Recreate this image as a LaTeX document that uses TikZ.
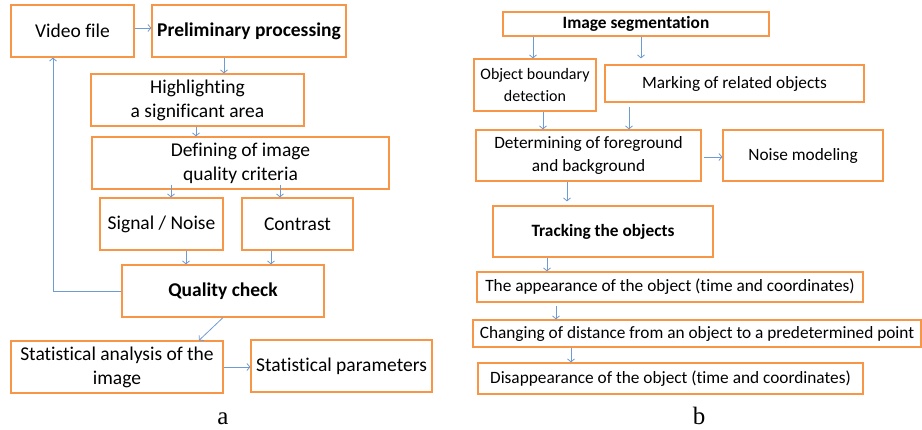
\documentclass[tikz,border=0pt]{standalone}
\usepackage{fontspec}
\setmainfont{Carlito}[Ligatures=NoCommon]
\newfontfamily\capFont{Liberation Serif}
\usetikzlibrary{positioning, arrows.meta}
\definecolor{boxOrange}{RGB}{247, 150, 70}
\definecolor{arrowBlue}{RGB}{110, 155, 210}
\tikzset{myBox/.style={draw=boxOrange, line width=1.2pt, inner sep=0pt, align=center, font=\fontsize{19.5}{24}\selectfont}}
\tikzset{mySmallBox/.style={myBox, font=\fontsize{17.3}{23}\selectfont}}
\tikzset{myArrow/.style={draw=arrowBlue, line width=0.8pt, -{Straight Barb[length=3pt,width=7pt]}}}
\tikzset{myCaption/.style={font=\capFont\fontsize{25}{28}\selectfont, inner sep=0pt, anchor=base}}

\begin{document}
\begin{tikzpicture}[x=1pt,y=-1pt]
	\useasboundingbox (0,0) rectangle (922,429);
	% part a
	\node[myBox, minimum width=123, minimum height=52] (video) at (72.5,31) {Video file};
	\node[myBox, minimum width=194, minimum height=52] (prelim) at (249,31) {\textbf{Preliminary processing}};
	\node[myBox, minimum width=213, minimum height=52] (highlight) at (197.5,100) {Highlighting\\a significant area};
	\node[myBox, minimum width=297, minimum height=52] (defining) at (240.5,163) {Defining of image\\quality criteria};
	\node[myBox, minimum width=123, minimum height=52] (signal) at (161.5,224) {Signal / Noise};
	\node[myBox, minimum width=111, minimum height=52] (contrast) at (297.5,224) {Contrast};
	\node[myBox, minimum width=202, minimum height=52] (quality) at (223,291) {\textbf{Quality check}};
	\node[myBox, minimum width=212, minimum height=52] (statAn) at (117,367) {Statistical analysis of the\\image};
	\node[myBox, minimum width=181, minimum height=52] (statPar) at (341.5,366) {Statistical parameters};
	\node[myCaption] (capA) at (223,424) {a};

	\draw[myArrow] ([yshift=3pt]video.east) -- ([yshift=3pt]prelim.west);
	\draw[myArrow] ([xshift=-25pt]prelim.south) -- ([xshift=26.5pt]highlight.north);
	\draw[myArrow] ([xshift=-1.5pt]highlight.south) -- ([xshift=-44.5pt]defining.north);
	\draw[myArrow] ([xshift=-69.5pt,yshift=5pt]defining.south) -- ([xshift=9.5pt]signal.north);
	\draw[myArrow] ([xshift=39.5pt,yshift=5pt]defining.south) -- ([xshift=-17.5pt]contrast.north);
	\draw[myArrow] ([xshift=24.5pt]signal.south) -- ([xshift=-37pt]quality.north);
	\draw[myArrow] ([xshift=-26.5pt]contrast.south) -- ([xshift=48pt]quality.north);
	\draw[myArrow] (quality.west) -| ([xshift=-19.5pt]video.south);
	\draw[myArrow] (quality.south) -- ([xshift=82pt]statAn.north);
	\draw[myArrow] (statAn.east) -- ([yshift=-1pt]statPar.west);

	% part b
	\node[mySmallBox, minimum width=266, minimum height=24] (segment) at (636,24) {\textbf{Image segmentation}};
	\node[mySmallBox, minimum width=122, minimum height=52, font=\fontsize{16}{22}\selectfont] (boundary) at (535,85) {Object boundary\\detection};
	\node[mySmallBox, minimum width=259, minimum height=37] (marking) at (734.5,83.5) {Marking of related objects};
	\node[mySmallBox, minimum width=225, minimum height=51] (foreground) at (588.5,155.5) {Determining of foreground\\and background};
	\node[mySmallBox, minimum width=160, minimum height=51] (noise) at (803,155.5) {Noise modeling};
	\node[mySmallBox, minimum width=220, minimum height=51] (tracking) at (603,231.5) {\textbf{Tracking the objects}};
	\node[mySmallBox, minimum width=386, minimum height=30] (appear) at (670,287) {The appearance of the object (time and coordinates)};
	\node[mySmallBox, minimum width=448, minimum height=27] (distance) at (697,333.5) {Changing of distance from an object to a predetermined point};
	\node[mySmallBox, minimum width=385, minimum height=31] (disappear) at (670.5,378.5) {Disappearance of the object (time and coordinates)};
	\node[myCaption] (capB) at (699,424) {b};

	\draw[myArrow] ([xshift=-103pt]segment.south) -- ([xshift=-2pt]boundary.north);
	\draw[myArrow] ([xshift=5pt]segment.south) -- ([xshift=-93.5pt,yshift=6pt]marking.north);
	\draw[myArrow] ([xshift=8pt]boundary.south) -- ([xshift=-45.5pt]foreground.north);
	\draw[myArrow] ([xshift=-105.5pt,yshift=-4pt]marking.south) -- ([xshift=40.5pt]foreground.north);
	\draw[myArrow] ([xshift=2pt,yshift=-1.5pt]foreground.east) -- ([yshift=-1.5pt]noise.west);
	\draw[myArrow] ([xshift=-21.5pt]foreground.south) -- ([xshift=-36pt,yshift=4pt]tracking.north);
	\draw[myArrow] ([xshift=-56pt]tracking.south) -- ([xshift=-123pt]appear.north);
	\draw[myArrow] ([xshift=-114pt,yshift=-3pt]appear.south) -- ([xshift=-141pt]distance.north);
	\draw[myArrow] ([xshift=-126pt]distance.south) -- ([xshift=-99.5pt]disappear.north);
\end{tikzpicture}
\end{document}
